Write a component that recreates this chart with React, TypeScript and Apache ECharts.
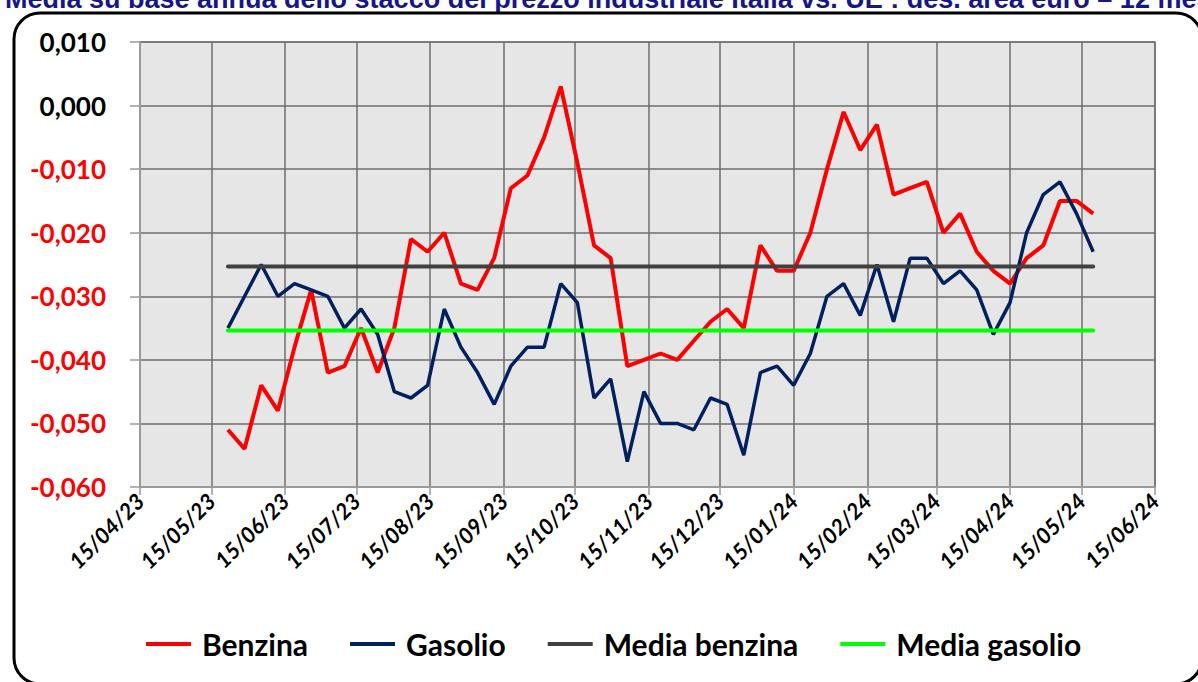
import React, { useEffect, useRef } from "react";
import * as echarts from "echarts";

const dates = [
  "2023-05-22", "2023-05-29", "2023-06-05", "2023-06-12", "2023-06-19", "2023-06-26",
  "2023-07-03", "2023-07-10", "2023-07-17", "2023-07-24", "2023-07-31", "2023-08-07",
  "2023-08-14", "2023-08-21", "2023-08-28", "2023-09-04", "2023-09-11", "2023-09-18",
  "2023-09-25", "2023-10-02", "2023-10-09", "2023-10-16", "2023-10-23", "2023-10-30",
  "2023-11-06", "2023-11-13", "2023-11-20", "2023-11-27", "2023-12-04", "2023-12-11",
  "2023-12-18", "2023-12-25", "2024-01-01", "2024-01-08", "2024-01-15", "2024-01-22",
  "2024-01-29", "2024-02-05", "2024-02-12", "2024-02-19", "2024-02-26", "2024-03-04",
  "2024-03-11", "2024-03-18", "2024-03-25", "2024-04-01", "2024-04-08", "2024-04-15",
  "2024-04-22", "2024-04-29", "2024-05-06", "2024-05-13", "2024-05-20",
];

const benzina = [
  -0.051, -0.054, -0.044, -0.048, -0.038, -0.029, -0.042, -0.041, -0.035, -0.042,
  -0.035, -0.021, -0.023, -0.020, -0.028, -0.029, -0.024, -0.013, -0.011, -0.005,
  0.003, -0.009, -0.022, -0.024, -0.041, -0.040, -0.039, -0.040, -0.037, -0.034,
  -0.032, -0.035, -0.022, -0.026, -0.026, -0.020, -0.010, -0.001, -0.007, -0.003,
  -0.014, -0.013, -0.012, -0.020, -0.017, -0.023, -0.026, -0.028, -0.024, -0.022,
  -0.015, -0.015, -0.017,
];

const gasolio = [
  -0.035, -0.030, -0.025, -0.030, -0.028, -0.029, -0.030, -0.035, -0.032, -0.036,
  -0.045, -0.046, -0.044, -0.032, -0.038, -0.042, -0.047, -0.041, -0.038, -0.038,
  -0.028, -0.031, -0.046, -0.043, -0.056, -0.045, -0.050, -0.050, -0.051, -0.046,
  -0.047, -0.055, -0.042, -0.041, -0.044, -0.039, -0.030, -0.028, -0.033, -0.025,
  -0.034, -0.024, -0.024, -0.028, -0.026, -0.029, -0.036, -0.031, -0.020, -0.014,
  -0.012, -0.017, -0.023,
];

const mediaBenzina = -0.0253;
const mediaGasolio = -0.0354;

const tickLabels = [
  "15/04/23", "15/05/23", "15/06/23", "15/07/23", "15/08/23", "15/09/23", "15/10/23",
  "15/11/23", "15/12/23", "15/01/24", "15/02/24", "15/03/24", "15/04/24", "15/05/24",
  "15/06/24",
];

const seriesNames = ["Benzina", "Gasolio", "Media benzina", "Media gasolio"];

const titleText =
  "Media su base annua dello stacco del prezzo industriale Italia vs. UE : des. area euro – 12 mesi";

function parseISO(s: string): number {
  const [y, m, d] = s.split("-").map(Number);
  return Date.UTC(y, m - 1, d);
}
function parseDMY(s: string): number {
  const [d, m, y] = s.split("/").map(Number);
  return Date.UTC(2000 + y, m - 1, d);
}
function fmtDMY(v: number): string {
  const dt = new Date(v);
  const dd = String(dt.getUTCDate()).padStart(2, "0");
  const mm = String(dt.getUTCMonth() + 1).padStart(2, "0");
  const yy = String(dt.getUTCFullYear() % 100).padStart(2, "0");
  return `${dd}/${mm}/${yy}`;
}

export default function App() {
  const ref = useRef<HTMLDivElement>(null);

  useEffect(() => {
    document.body.style.margin = "0";
    if (!ref.current) return;
    const chart = echarts.init(ref.current, null, { renderer: "svg" });
    const xs = dates.map(parseISO);
    const tickVals = tickLabels.map(parseDMY);
    const font = "Lato, 'Noto Sans', sans-serif";

    chart.setOption({
      animation: false,
      backgroundColor: "#ffffff",
      textStyle: { fontFamily: font },
      grid: {
        left: 140,
        top: 42,
        right: 43,
        bottom: 195,
        show: true,
        backgroundColor: "#E6E6E6",
        borderColor: "#8a8a8a",
        borderWidth: 1.5,
      },
      xAxis: {
        type: "value",
        min: tickVals[0],
        max: tickVals[tickVals.length - 1],
        axisLine: { show: true, onZero: false, lineStyle: { color: "#9a9a9a", width: 2 } },
        axisTick: {
          show: true,
          customValues: tickVals,
          length: 8,
          lineStyle: { color: "#9a9a9a", width: 1.5 },
        },
        axisLabel: {
          customValues: tickVals,
          rotate: 45,
          margin: 10,
          formatter: (v: number) => fmtDMY(v),
          fontFamily: font,
          fontSize: 22,
          fontWeight: "bold",
          fontStyle: "italic",
          color: "#000000",
        },
        splitLine: { show: true, lineStyle: { color: "#6e6e6e", width: 1.5 } },
      },
      yAxis: {
        type: "value",
        min: -0.06,
        max: 0.01,
        interval: 0.01,
        axisLine: { show: true, lineStyle: { color: "#9a9a9a", width: 2 } },
        axisTick: { show: true, length: 10, lineStyle: { color: "#9a9a9a", width: 1.5 } },
        axisLabel: {
          margin: 34,
          fontFamily: font,
          fontSize: 26,
          fontWeight: "bold",
          formatter: (v: number) => {
            const r = Math.round(v * 1000) / 1000;
            return (r === 0 ? 0 : r).toFixed(3).replace(".", ",");
          },
          color: (v: any) => (Number(v) < -1e-9 ? "#FF0000" : "#000000"),
        },
        splitLine: { show: true, lineStyle: { color: "#6e6e6e", width: 1.5 } },
      },
      legend: {
        data: seriesNames,
        left: 141,
        top: 624,
        icon: "rect",
        itemWidth: 45,
        itemHeight: 4,
        itemGap: 42,
        textStyle: { fontFamily: font, fontSize: 30, fontWeight: "bold", color: "#000000", padding: [0, 0, 0, 6] },
      },
      graphic: [
        {
          type: "text",
          left: 5,
          top: -15,
          style: {
            text: titleText,
            fontFamily: "'Liberation Sans', Arial, sans-serif",
            fontSize: 27,
            fontWeight: "bold",
            fill: "#16168C",
          },
        },
        {
          type: "rect",
          shape: { x: 14, y: 13, width: 1188, height: 671, r: 26 },
          style: { fill: "none", stroke: "#000000", lineWidth: 3 },
          z: 100,
        },
      ],
      series: [
        {
          name: "Benzina",
          type: "line",
          data: xs.map((x, i) => [x, benzina[i]]),
          showSymbol: false,
          symbol: "none",
          lineStyle: { color: "#FF0000", width: 4 },
          itemStyle: { color: "#FF0000" },
        },
        {
          name: "Gasolio",
          type: "line",
          data: xs.map((x, i) => [x, gasolio[i]]),
          showSymbol: false,
          symbol: "none",
          lineStyle: { color: "#002060", width: 3.5 },
          itemStyle: { color: "#002060" },
        },
        {
          name: "Media benzina",
          type: "line",
          data: xs.map((x) => [x, mediaBenzina]),
          showSymbol: false,
          symbol: "none",
          lineStyle: { color: "#404040", width: 4, cap: "round" },
          itemStyle: { color: "#404040" },
        },
        {
          name: "Media gasolio",
          type: "line",
          data: xs.map((x) => [x, mediaGasolio]),
          showSymbol: false,
          symbol: "none",
          lineStyle: { color: "#00FF00", width: 4, cap: "round" },
          itemStyle: { color: "#00FF00" },
        },
      ],
    });

    return () => chart.dispose();
  }, []);

  return <div ref={ref} style={{ width: 1198, height: 682 }} />;
}
